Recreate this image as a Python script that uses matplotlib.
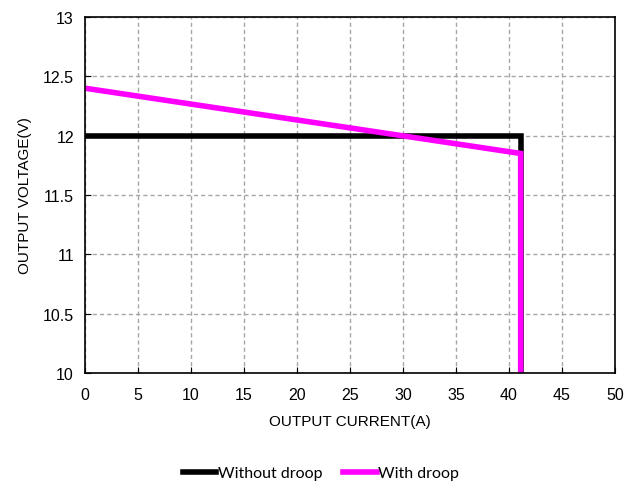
import matplotlib
matplotlib.use('Agg')
from matplotlib import pyplot as plt

plt.rcParams['font.family'] = ['Liberation Sans', 'DejaVu Sans']

# data
current_no_droop = [0, 41.1, 41.1]
voltage_no_droop = [12.0, 12.0, 10.0]
current_droop = [0, 41.1, 41.1]
voltage_droop = [12.4, 11.85, 10.0]

fig = plt.figure(figsize=(6.42, 4.85), dpi=100)
ax = fig.add_axes([85 / 642, 1 - 374 / 485, 530 / 642, 356 / 485])

ax.plot(current_no_droop, voltage_no_droop, color='black', lw=4,
        solid_joinstyle='miter', label='Without droop')
ax.plot(current_droop, voltage_droop, color='#ff00ff', lw=4,
        solid_joinstyle='miter', label='With droop')

ax.set_xlim(0, 50)
ax.set_ylim(10, 13)
ax.set_xticks(range(0, 51, 5))
ax.set_yticks([10, 10.5, 11, 11.5, 12, 12.5, 13])
ax.set_yticklabels(['10', '10.5', '11', '11.5', '12', '12.5', '13'])
ax.grid(True, color='#a6a6a6', linestyle=(0, (3, 2.2)), lw=1.0)
ax.tick_params(direction='in', length=4, labelsize=11.5)
ax.tick_params(axis='x', pad=10)
ax.tick_params(axis='y', pad=8)
for s in ax.spines.values():
    s.set_linewidth(1.2)

ax.set_xlabel('OUTPUT CURRENT(A)', fontsize=11, labelpad=9)
ax.set_ylabel('OUTPUT VOLTAGE(V)', fontsize=11, labelpad=8)

fig.legend(loc='center', bbox_to_anchor=(0.5, 1 - 474 / 485), ncol=2,
           frameon=False, handlelength=2.1, handletextpad=0.1,
           columnspacing=1.3, prop={'family': 'Lato', 'size': 11.5})

fig.savefig('out.png', dpi=100)
